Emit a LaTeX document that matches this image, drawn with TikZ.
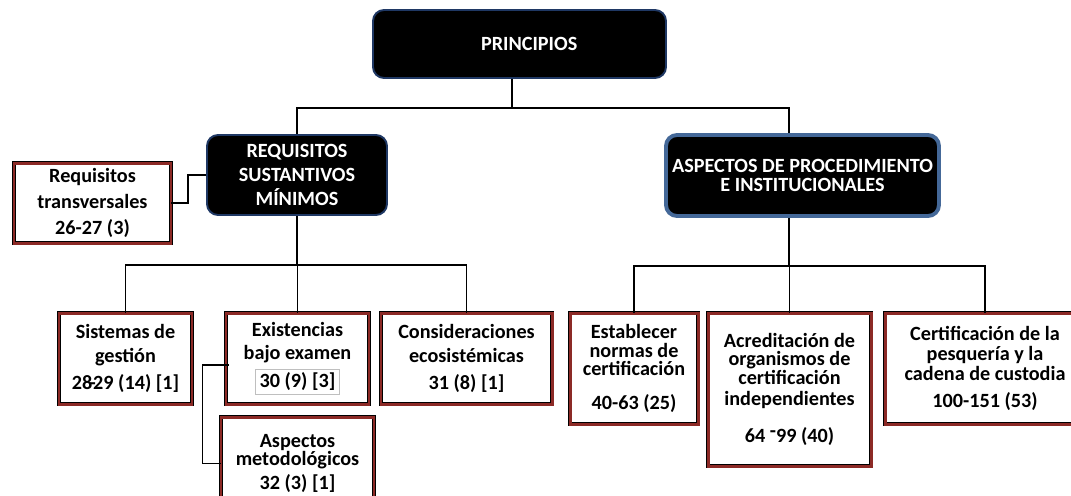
\documentclass[tikz,border=0pt]{standalone}
\usepackage{fontspec}
\setmainfont{Carlito}
\definecolor{borderred}{RGB}{140,42,38}
\definecolor{hdrline}{RGB}{31,56,100}
\definecolor{hdrlinelight}{RGB}{68,104,152}
\tikzset{
  boxsize/.style 2 args={minimum width=#1*0.02cm, minimum height=#2*0.02cm},
  header/.style={fill=black, draw=hdrline, line width=1.1pt, rounded corners=0.22cm,
    text=white, align=center, inner sep=1pt},
  leaf/.style={draw=black, line width=0.35pt, double=borderred, double distance=1.7pt,
    fill=white, align=center, inner sep=1pt},
  tree/.style={line width=1.1pt},
}
\setlength{\fboxsep}{2pt}
\begin{document}
\begin{tikzpicture}[x=0.02cm, y=-0.02cm, font=\fontsize{11.5}{13.6}\selectfont\bfseries]
    \clip (0,0) rectangle (1071,495);
    % Encabezados
    \node[header, boxsize={293}{68}] (princ) at (519.5,44) {\hspace*{11pt}PRINCIPIOS};
    \node[header, boxsize={180}{80}] (req) at (297,175) {REQUISITOS\\SUSTANTIVOS\\MÍNIMOS};
    \node[header, draw=hdrlinelight, line width=2.2pt, boxsize={273}{81}] (asp) at (802.5,175.5)
        {ASPECTOS DE PROCEDIMIENTO\\[-2.3pt]E INSTITUCIONALES};

    % Requisitos sustantivos
    \node[leaf, boxsize={157}{80}] (trans) at (92.5,203) {Requisitos\\[1.1pt]transversales\\[1.1pt]26-27 (3)};
    \node[leaf, boxsize={133}{91}] (sis) at (125.5,358.5)
        {Sistemas de\\gestión\\[2.3pt]28\kern-1.5pt-\kern-1.5pt29 (14) [1]};
    \node[leaf, boxsize={143}{91}] (exi) at (297.5,358.5)
        {Existencias\\bajo examen\\[2.3pt]\fcolorbox{lightgray}{white}{30 (9) [3]}};
    \node[leaf, boxsize={171}{91}] (con) at (466.5,358.5)
        {Consideraciones\\ecosistémicas\\[2.3pt]31 (8) [1]};
    \node[leaf, boxsize={153}{93}] (met) at (297.5,463.5) {Aspectos\\[-3.5pt]metodológicos\\[0pt]32 (3) [1]};

    % Aspectos de procedimiento
    \node[leaf, boxsize={128}{111}] (est) at (634,368.5)
        {Establecer\\[-3pt]normas de\\[-3pt]certificación\\[5.5pt]40-63 (25)};
    \node[leaf, boxsize={163}{153}] (acr) at (789.5,389.5)
        {Acreditación de\\[-3pt]organismos de\\[-3pt]certificación\\[-1.5pt]independientes\\[7.5pt]64 \raisebox{3pt}{-}99 (40)};
    \node[leaf, boxsize={200}{111}] (cer) at (985,368.5)
        {Certificación de la\\[-2.3pt]pesquería y la\\[-2.3pt]cadena de custodia\\[1.7pt]100-151 (53)};

    % Conectores
    \draw[tree] ([xshift=-0.15cm]princ.south) -- ++(0,29) coordinate (top) -| (req.north);
    \draw[tree] (top) -| ([xshift=-0.27cm]asp.north);
    \draw[tree] (req.south) -- ++(0,49) coordinate (reqbus);
    \foreach \child in {sis, exi, con} {
        \draw[tree] (reqbus) -| (\child.north);
    }
    \draw[tree] ([xshift=-0.27cm]asp.south) -- ++(0,48) coordinate (aspbus);
    \foreach \child in {est, acr, cer} {
        \draw[tree] (aspbus) -| (\child.north);
    }
    \draw[tree] (req.west) -- ++(-18,0) |- (trans.east);
    \draw[line width=0.6pt] ([xshift=0.06cm,yshift=-0.13cm]exi.west) -- ++(-26,0) |- (met.west);
\end{tikzpicture}
\end{document}
